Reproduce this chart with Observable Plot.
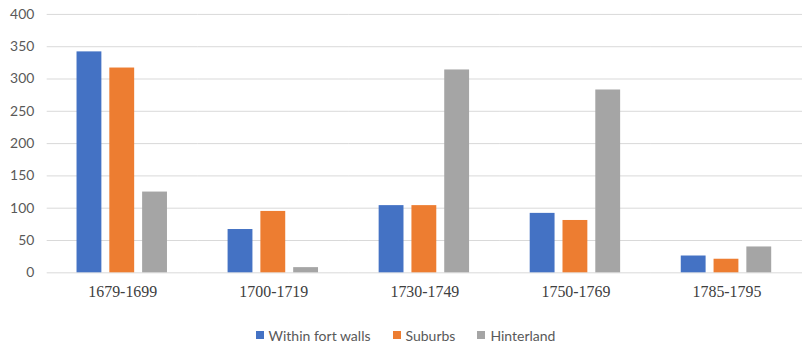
<!DOCTYPE html>
<html>
<head>
<meta charset="utf-8">
<script src="https://cdn.jsdelivr.net/npm/d3@7"></script>
<script src="https://cdn.jsdelivr.net/npm/@observablehq/plot@0.6"></script>
<style>
  html, body { margin: 0; padding: 0; background: #fff; overflow: hidden; width: 803px; height: 348px; }
  #chart svg { display: block; }
  #legend { display: flex; justify-content: center; align-items: center; height: 22px; padding-top: 16px; font-family: Lato, "Open Sans", sans-serif; font-size: 14px; color: #595959; padding-left: 8px; }
  .item { display: flex; align-items: center; margin: 0 11px; }
  .sw { width: 8px; height: 8px; margin-right: 5px; }
</style>
</head>
<body>
<div id="chart"></div>
<div id="legend"></div>
<script>
const periods = ["1679-1699", "1700-1719", "1730-1749", "1750-1769", "1785-1795"];
const series = ["Within fort walls", "Suburbs", "Hinterland"];
const withinFortWalls = [342, 67, 104, 92, 26];
const suburbs = [317, 95, 104, 81, 21];
const hinterland = [125, 8, 314, 283, 40];
const colors = ["#4472C4", "#ED7D31", "#A5A5A5"];
const yTicks = [0, 50, 100, 150, 200, 250, 300, 350, 400];

const valuesBySeries = [withinFortWalls, suburbs, hinterland];
const data = [];
periods.forEach((p, i) => {
  series.forEach((s, j) => data.push({period: p, series: s, value: valuesBySeries[j][i]}));
});

const plot = Plot.plot({
  width: 808,
  height: 310,
  marginLeft: 45,
  marginRight: 0,
  marginTop: 14,
  marginBottom: 36,
  style: {fontFamily: "Lato, sans-serif", fontSize: "14px", color: "#595959", background: "#fff", overflow: "visible"},
  fx: {domain: periods, paddingInner: 0, paddingOuter: 0, label: null, axis: null},
  x: {domain: series, paddingInner: 0.235, paddingOuter: 0.86, axis: null},
  y: {domain: [0, 400], ticks: yTicks, label: null, axis: null},
  color: {domain: series, range: colors},
  marks: [
    Plot.ruleY(yTicks, {y: d => d, stroke: "#d9d9d9", strokeWidth: 1}),
    Plot.axisY(yTicks, {tickSize: 0, tickPadding: 13, fontFamily: "Lato, sans-serif", fontSize: 14, fill: "#595959", label: null}),
    Plot.barY(data, {fx: "period", x: "series", y: "value", fill: "series"}),
    Plot.axisFx({anchor: "bottom", tickSize: 0, tickPadding: 13, fontFamily: "'Liberation Serif', serif", fontSize: 16, fill: "#404040", label: null})
  ]
});
document.getElementById("chart").appendChild(plot);

const legend = document.getElementById("legend");
series.forEach((s, i) => {
  const item = document.createElement("div");
  item.className = "item";
  const sw = document.createElement("div");
  sw.className = "sw";
  sw.style.background = colors[i];
  const t = document.createElement("span");
  t.textContent = s;
  item.appendChild(sw);
  item.appendChild(t);
  legend.appendChild(item);
});
</script>
</body>
</html>
